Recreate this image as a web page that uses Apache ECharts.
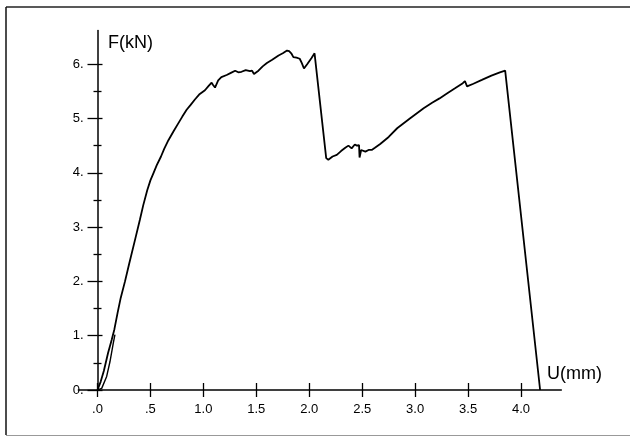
<!DOCTYPE html>
<html>
<head>
<meta charset="utf-8">
<style>
  html, body { margin: 0; padding: 0; background: #fff; }
  #chart { width: 630px; height: 437px; }
</style>
<script src="https://cdn.jsdelivr.net/npm/echarts@6/dist/echarts.min.js"></script>
</head>
<body>
<div id="chart"></div>
<script>
// load curve, displacement U (mm) and force F (kN)
const mainU = [0, 0.03, 0.06, 0.10, 0.134, 0.16, 0.19, 0.22, 0.26, 0.30, 0.354, 0.40, 0.432, 0.47, 0.50,
  0.53, 0.56, 0.60, 0.63, 0.67, 0.72, 0.763, 0.80, 0.842, 0.88, 0.92, 0.96, 1.015, 1.05, 1.078, 1.09, 1.11,
  1.14, 1.17, 1.22, 1.26, 1.30, 1.33, 1.36, 1.40, 1.44, 1.46, 1.478, 1.52, 1.56, 1.60, 1.65, 1.71,
  1.75, 1.79, 1.81, 1.83, 1.85, 1.88, 1.91, 1.93, 1.95, 1.98, 2.02, 2.05, 2.16, 2.18, 2.22, 2.26,
  2.30, 2.34, 2.37, 2.40, 2.43, 2.45, 2.47, 2.475, 2.49, 2.53, 2.56, 2.59, 2.62, 2.67, 2.75, 2.83,
  2.95, 3.08, 3.16, 3.23, 3.30, 3.38, 3.45, 3.47, 3.49, 3.55, 3.63, 3.72, 3.80, 3.85, 4.18]
const mainF = [0, 0.15, 0.35, 0.68, 0.92, 1.12, 1.42, 1.70, 2.00, 2.33, 2.76, 3.13, 3.40, 3.68, 3.86,
  4.00, 4.14, 4.30, 4.44, 4.60, 4.77, 4.91, 5.03, 5.16, 5.25, 5.35, 5.44, 5.52, 5.60, 5.66, 5.62, 5.57,
  5.70, 5.76, 5.80, 5.84, 5.88, 5.85, 5.86, 5.89, 5.87, 5.88, 5.82, 5.88, 5.96, 6.02, 6.08, 6.16,
  6.20, 6.25, 6.24, 6.20, 6.13, 6.12, 6.10, 6.02, 5.92, 6.00, 6.11, 6.20, 4.27, 4.24, 4.30, 4.33,
  4.40, 4.46, 4.50, 4.45, 4.52, 4.50, 4.51, 4.28, 4.42, 4.39, 4.42, 4.42, 4.46, 4.53, 4.66, 4.82,
  5.00, 5.19, 5.29, 5.37, 5.46, 5.56, 5.65, 5.69, 5.59, 5.64, 5.71, 5.79, 5.85, 5.88, 0]
// second trace at the toe of the curve
const toeU = [0, 0.04, 0.087, 0.118, 0.149, 0.165]
const toeF = [0, 0.03, 0.25, 0.52, 0.86, 1.02]

const xTicks = [0, 0.5, 1, 1.5, 2, 2.5, 3, 3.5, 4]
const xTickLabels = ['.0', '.5', '1.0', '1.5', '2.0', '2.5', '3.0', '3.5', '4.0']
const yTicks = [0, 1, 2, 3, 4, 5, 6]
const yTickLabels = ['0.', '1.', '2.', '3.', '4.', '5.', '6.']
const yMinorTicks = [0.5, 1.5, 2.5, 3.5, 4.5, 5.5]

const zip = (a, b) => a.map((v, i) => [v, b[i]])

const ink = '#000'
const xMin = -0.18
const xMax = 4.38
const yMin = 0
const yMax = 6.62
const yShift = -19.1 // y axis sits on U = 0

function xAxisDef(inside, main) {
  return {
    type: 'value',
    min: xMin,
    max: xMax,
    position: 'bottom',
    splitLine: { show: false },
    axisLine: { show: main, onZero: false, lineStyle: { color: ink, width: 1.5 } },
    axisTick: { show: true, inside: inside, length: 7, customValues: xTicks, lineStyle: { color: ink, width: 1.3 } },
    axisLabel: {
      show: main,
      customValues: xTicks,
      margin: 13,
      color: ink,
      fontFamily: 'Liberation Sans',
      fontSize: 13,
      formatter: v => xTickLabels[Math.round(v * 2)]
    }
  }
}

function yAxisDef(ticks, inside, len, main) {
  return {
    type: 'value',
    min: yMin,
    max: yMax,
    position: 'left',
    offset: yShift,
    splitLine: { show: false },
    axisLine: { show: main, onZero: false, lineStyle: { color: ink, width: 1.5 } },
    axisTick: { show: true, inside: inside, length: len, customValues: ticks, lineStyle: { color: ink, width: 1.3 } },
    axisLabel: {
      show: main,
      customValues: yTicks,
      margin: 14,
      color: ink,
      fontFamily: 'Liberation Sans',
      fontSize: 13,
      padding: [0, 0, 6, 0],
      formatter: v => yTickLabels[Math.round(v)]
    }
  }
}

const chart = echarts.init(document.getElementById('chart'), null, { renderer: 'canvas' })
chart.setOption({
  animation: false,
  backgroundColor: '#fff',
  grid: { left: 78.4, right: 68.7, top: 30.5, bottom: 47 },
  xAxis: [xAxisDef(false, true), xAxisDef(true, false)],
  yAxis: [
    yAxisDef(yTicks, false, 10, true),
    yAxisDef(yTicks, true, 5, false),
    yAxisDef(yMinorTicks, false, 4, false),
    yAxisDef(yMinorTicks, true, 4, false)
  ],
  graphic: [
    { type: 'line', shape: { x1: 6, y1: 7, x2: 630, y2: 7 }, style: { stroke: '#222', lineWidth: 1.5 } },
    { type: 'line', shape: { x1: 6, y1: 7, x2: 6, y2: 435 }, style: { stroke: '#111', lineWidth: 1.5 } },
    { type: 'line', shape: { x1: 6, y1: 435.5, x2: 630, y2: 435.5 }, style: { stroke: '#999', lineWidth: 1 } },
    { type: 'text', left: 108, top: 34, style: { text: 'F(kN)', fill: ink, font: '18px "Liberation Sans"' } },
    { type: 'text', left: 547, top: 365, style: { text: 'U(mm)', fill: ink, font: '18px "Liberation Sans"' } }
  ],
  series: [
    {
      type: 'line',
      data: zip(mainU, mainF),
      showSymbol: false,
      lineStyle: { color: ink, width: 1.8 },
      z: 3
    },
    {
      type: 'line',
      data: zip(toeU, toeF),
      showSymbol: false,
      lineStyle: { color: ink, width: 1.4 },
      z: 3
    }
  ]
})
</script>
</body>
</html>
